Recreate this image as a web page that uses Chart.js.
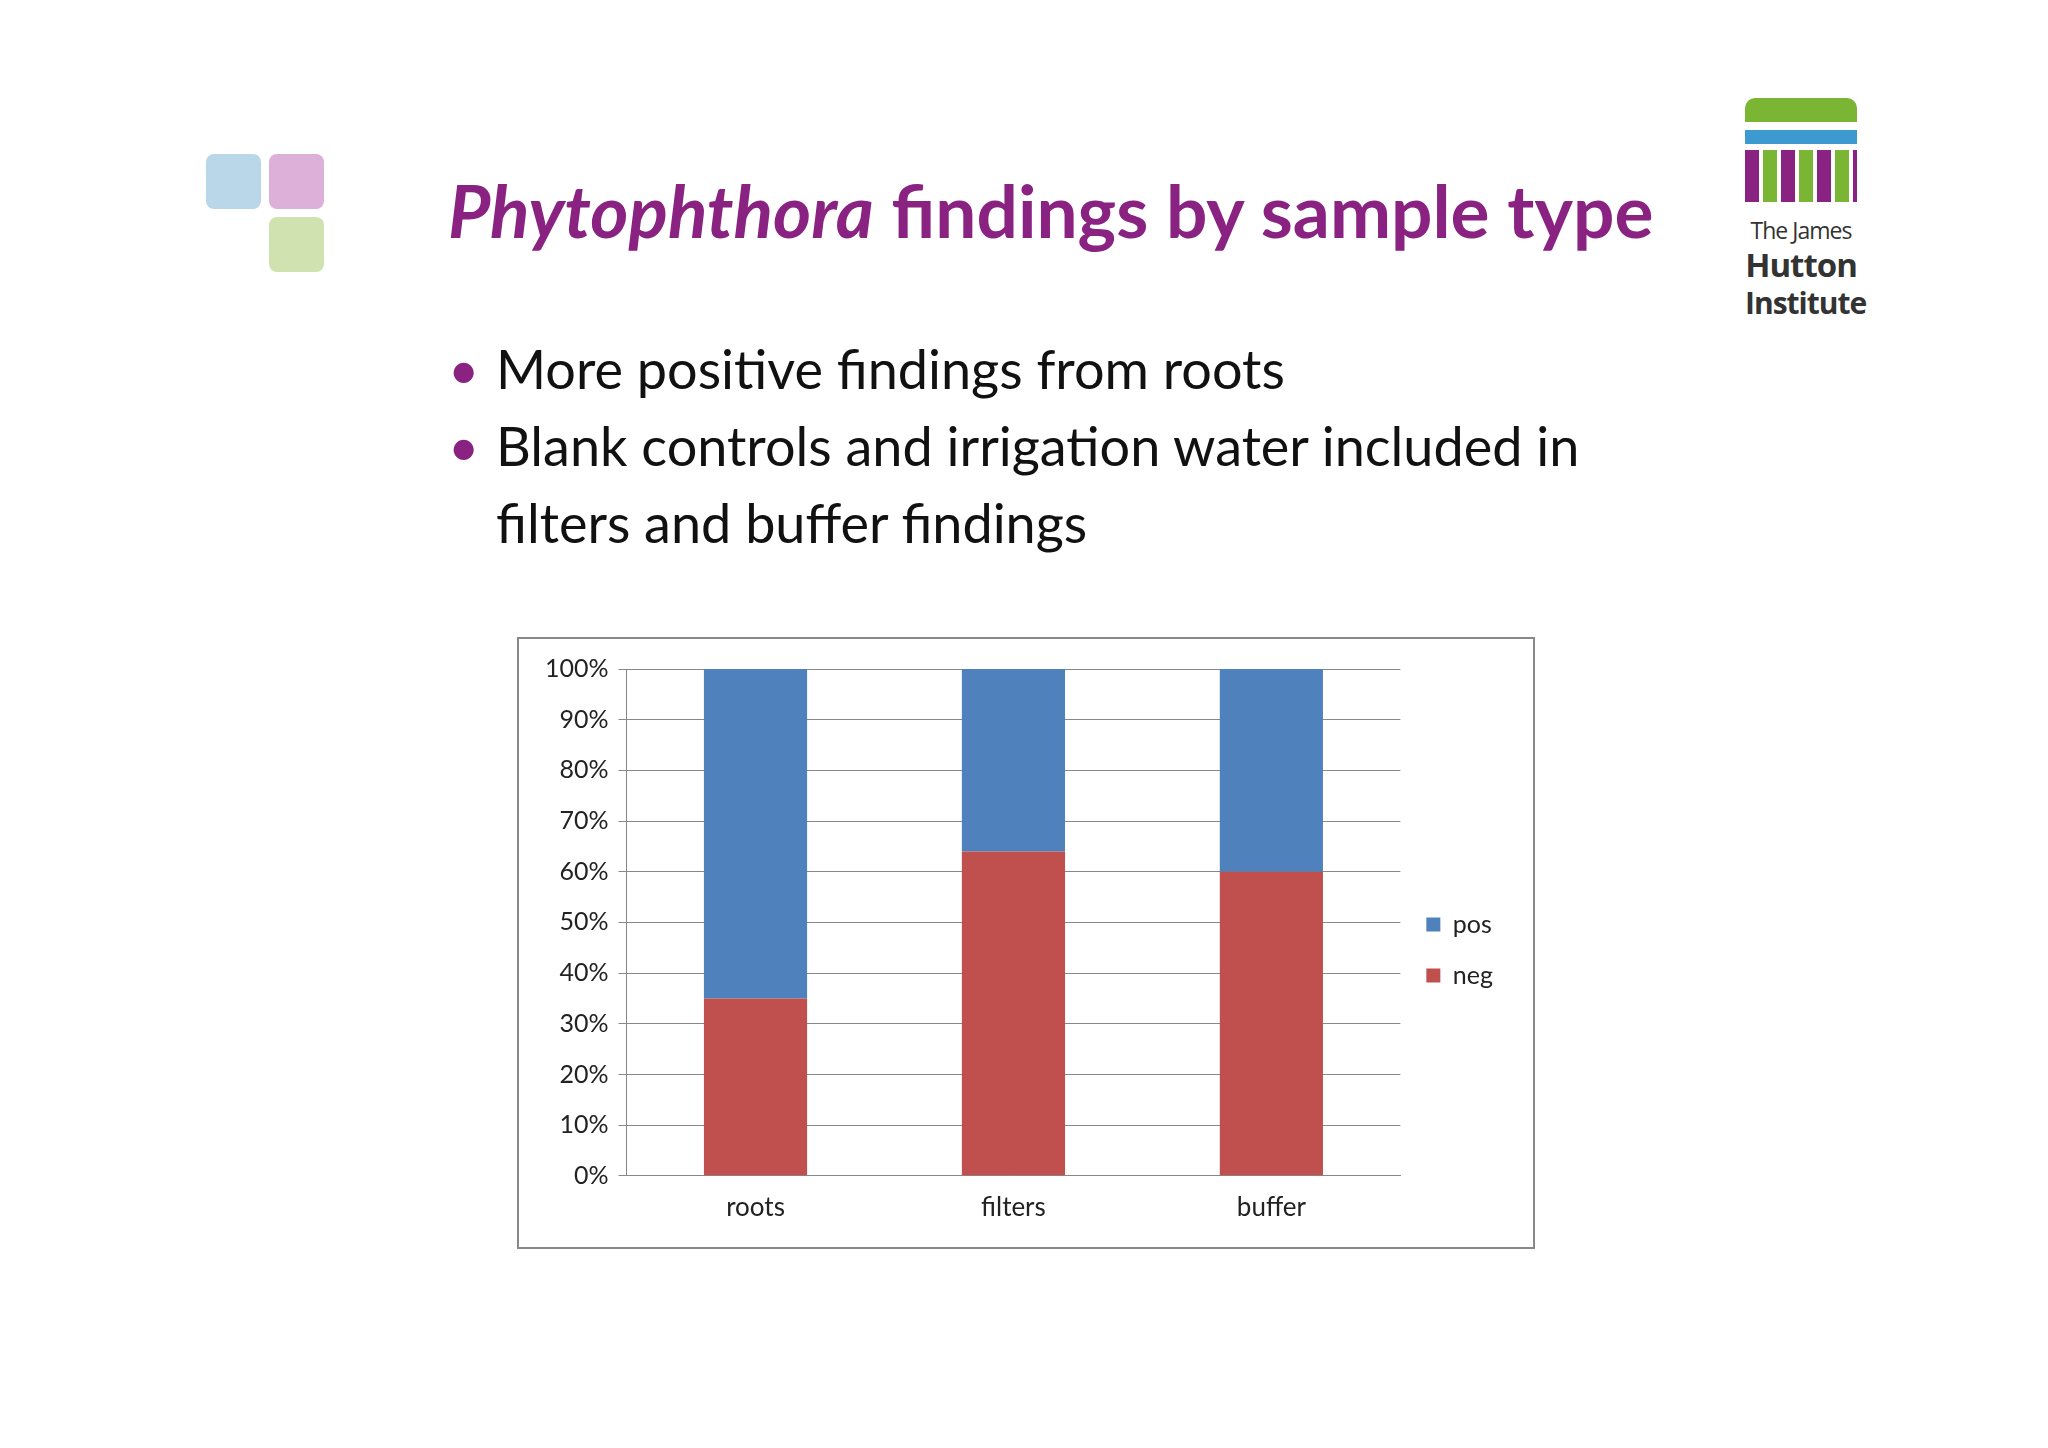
<!DOCTYPE html>
<html lang="en">
<head>
<meta charset="UTF-8">
<title>Phytophthora findings by sample type</title>
<script src="https://cdn.jsdelivr.net/npm/chart.js"></script>
<style>
    body { margin: 0; width: 2048px; height: 1448px; background: #fff; position: relative; overflow: hidden; font-family: Lato, "Open Sans", sans-serif; }
    .sq { position: absolute; width: 55px; height: 55px; border-radius: 8px; }
    h1 { position: absolute; left: 448px; top: 166px; margin: 0; font-size: 73px; font-weight: bold; color: #8a2282; white-space: nowrap; }
    ul { position: absolute; left: 448px; top: 330px; margin: 0; padding: 0; list-style: none; font-size: 54px; color: #111; line-height: 77px; }
    ul li { position: relative; padding-left: 48px; }
    ul li::before { content: "•"; position: absolute; left: 0; color: #8a2282; }
    .box { position: absolute; left: 517px; top: 637px; width: 1014px; height: 608px; border: 2px solid #888; }
    .logo { position: absolute; left: 1745px; top: 98px; width: 112px; }
    .logo .t { font-family: "Open Sans", sans-serif; color: #333; text-align: center; white-space: nowrap; letter-spacing: -1px; }
</style>
</head>
<body>
<div class="sq" style="left:206px;top:154px;background:#b9d7e8"></div>
<div class="sq" style="left:269px;top:154px;background:#dcb0d8"></div>
<div class="sq" style="left:269px;top:217px;background:#cfe2b0"></div>

<h1><i>Phytophthora</i> findings by sample type</h1>
<ul>
    <li>More positive findings from roots</li>
    <li>Blank controls and irrigation water included in<br>filters and buffer findings</li>
</ul>

<div class="logo">
    <div style="height:24px;background:#7ab534;border-radius:10px 10px 0 0"></div>
    <div style="height:8px"></div>
    <div style="height:14px;background:#3d9ad1"></div>
    <div style="height:6px"></div>
    <div style="height:52px;background:repeating-linear-gradient(90deg,#8a2282 0 14px,#fff 14px 18px,#7ab534 18px 32px,#fff 32px 36px)"></div>
    <div class="t" style="font-size:23px;line-height:32px;margin-top:12px">The James</div>
    <div class="t" style="font-size:33px;line-height:38px;font-weight:bold">Hutton</div>
    <div class="t" style="font-size:30px;line-height:38px;font-weight:bold">Institute</div>
</div>

<div class="box"><canvas id="c" width="1014" height="608"></canvas></div>

<script>
const categories = ["roots", "filters", "buffer"];
const negValues = [35, 64, 60];
const posValues = [65, 36, 40];
const yTicks = [0, 10, 20, 30, 40, 50, 60, 70, 80, 90, 100];

Chart.defaults.font.family = "Lato, 'Open Sans', sans-serif";
Chart.defaults.color = "#222";

new Chart(document.getElementById("c"), {
    type: "bar",
    data: {
        labels: categories,
        datasets: [
            { label: "neg", data: negValues, backgroundColor: "#c0504d", categoryPercentage: 0.4, barPercentage: 1 },
            { label: "pos", data: posValues, backgroundColor: "#4f81bd", categoryPercentage: 0.4, barPercentage: 1 }
        ]
    },
    options: {
        responsive: false,
        animation: false,
        devicePixelRatio: 1,
        layout: { padding: { top: 30, right: 30, bottom: 16, left: 16 } },
        plugins: {
            legend: {
                position: "right",
                reverse: true,
                labels: { boxWidth: 14, boxHeight: 14, font: { size: 25 }, padding: 26 }
            },
            tooltip: { enabled: false }
        },
        scales: {
            x: {
                stacked: true,
                grid: { display: false },
                border: { color: "#888" },
                ticks: { font: { size: 26 }, padding: 8, maxRotation: 0 }
            },
            y: {
                stacked: true,
                min: 0, max: 100,
                afterBuildTicks: axis => { axis.ticks = yTicks.map(v => ({ value: v })); },
                grid: { color: "#888", tickLength: 8 },
                border: { color: "#888" },
                ticks: { font: { size: 25 }, padding: 10, callback: v => v + "%" }
            }
        }
    }
});
</script>
</body>
</html>
